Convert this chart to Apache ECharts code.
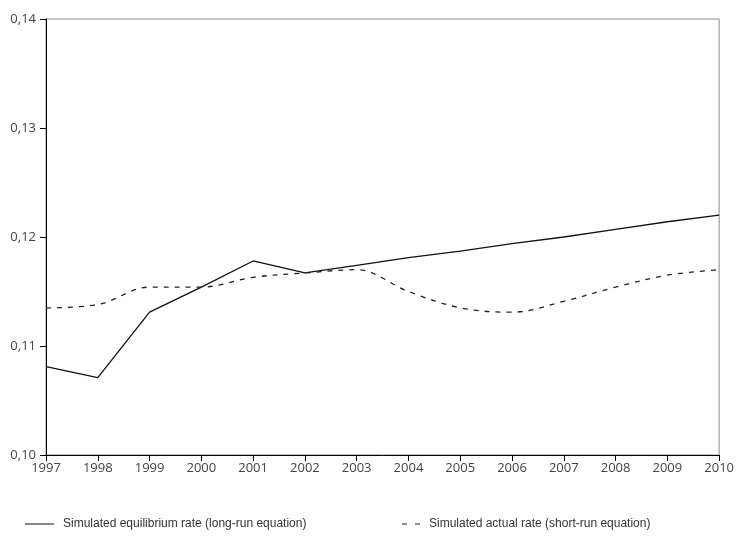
<!DOCTYPE html>
<html>
<head>
<meta charset="utf-8">
<script src="https://cdn.jsdelivr.net/npm/echarts@6/dist/echarts.min.js"></script>
<style>
  html, body { margin: 0; padding: 0; background: #fff; }
  #chart { width: 737px; height: 546px; }
</style>
</head>
<body>
<div id="chart"></div>
<script>
// years on the x axis
var years = ['1997', '1998', '1999', '2000', '2001', '2002', '2003', '2004', '2005', '2006', '2007', '2008', '2009', '2010'];
// long-run equation (solid)
var equilibrium = [0.1081, 0.1071, 0.1131, 0.1154, 0.1178, 0.1167, 0.1174, 0.1181, 0.1187, 0.1194, 0.1200, 0.1207, 0.1214, 0.1220];
// short-run equation (dashed)
var actual = [0.1135, 0.1138, 0.1154, 0.1154, 0.1163, 0.1167, 0.1170, 0.1150, 0.1135, 0.1131, 0.1141, 0.1154, 0.1165, 0.1170];

var nameLong = 'Simulated equilibrium rate (long-run equation)';
var nameShort = 'Simulated actual rate (short-run equation)';

var chart = echarts.init(document.getElementById('chart'));

var legendText = { fontFamily: 'Liberation Sans, Arial, sans-serif', fontSize: 12, color: '#333', padding: [0, 0, 0, 4] };

chart.setOption({
  animation: false,
  grid: {
    left: 46, right: 16, top: 19, bottom: 91,
    show: true,
    borderColor: '#8a8a8a',
    borderWidth: 1
  },
  legend: [{
    left: 20, top: 513,
    itemWidth: 29, itemHeight: 1.2,
    icon: 'path://M0,0 H29 V1 H0 Z',
    textStyle: legendText,
    data: [nameLong]
  }, {
    left: 397, top: 513,
    itemWidth: 18, itemHeight: 1.2,
    icon: 'path://M0,0 H5 V1 H0 Z M13,0 H18 V1 H13 Z',
    textStyle: legendText,
    data: [nameShort]
  }],
  xAxis: {
    type: 'category',
    data: years,
    boundaryGap: false,
    axisLine: { lineStyle: { color: '#000', width: 1 } },
    axisTick: { show: true, length: 6, inside: false, lineStyle: { color: '#000' } },
    axisLabel: { color: '#444', fontSize: 13, fontFamily: 'Open Sans, sans-serif', margin: 7, interval: 0 },
    splitLine: { show: false }
  },
  yAxis: {
    type: 'value',
    min: 0.10,
    max: 0.14,
    interval: 0.01,
    axisLine: { show: true, lineStyle: { color: '#000', width: 1 } },
    axisTick: { show: true, length: 6, lineStyle: { color: '#000' } },
    axisLabel: {
      color: '#444', fontSize: 13, fontFamily: 'Open Sans, sans-serif', margin: 10,
      formatter: function (v) { return v.toFixed(2).replace('.', ','); }
    },
    splitLine: { show: false }
  },
  series: [{
    name: nameLong,
    type: 'line',
    data: equilibrium,
    symbol: 'none',
    lineStyle: { color: '#111', width: 1.3, type: 'solid' },
    itemStyle: { color: '#111' }
  }, {
    name: nameShort,
    type: 'line',
    data: actual,
    symbol: 'none',
    smooth: 0.35,
    lineStyle: { color: '#222', width: 1.3, type: [5, 6] },
    itemStyle: { color: '#222' }
  }]
});
</script>
</body>
</html>
